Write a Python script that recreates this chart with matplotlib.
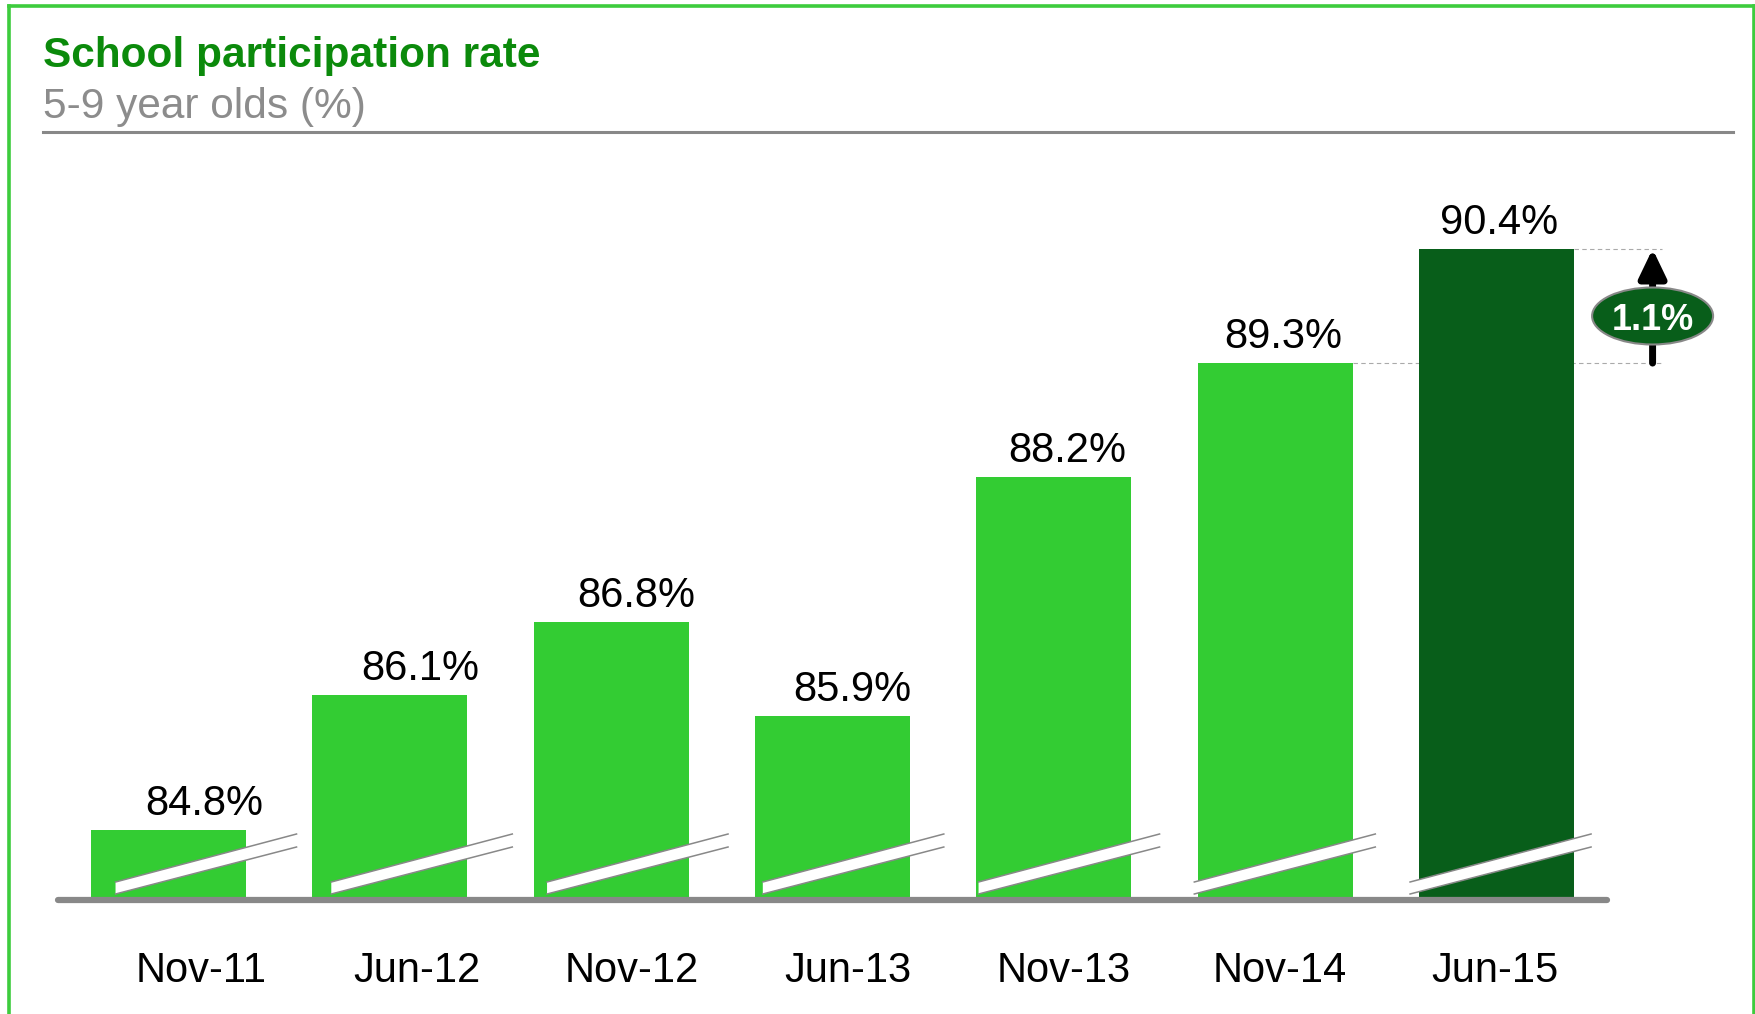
import numpy as np
import matplotlib.pyplot as plt
from matplotlib.patches import Ellipse, Polygon
from matplotlib.lines import Line2D

plt.rcParams['font.family'] = ['Liberation Sans', 'DejaVu Sans']

# data
periods = ['Nov-11', 'Jun-12', 'Nov-12', 'Jun-13', 'Nov-13', 'Nov-14', 'Jun-15']
rates = [84.8, 86.1, 86.8, 85.9, 88.2, 89.3, 90.4]

LIGHT_GREEN = '#33cc33'
DARK_GREEN = '#085e1a'
TITLE_GREEN = '#0b8a0b'
GREY = '#888888'

W, H = 1756, 1014
fig = plt.figure(figsize=(W / 100, H / 100), dpi=100)

# layout helpers (pixel positions measured from top-left)
BASE_PX = 900
TOP_PX = 150
Y_BOT = 84.125          # value at the (broken) baseline
PX_PER_PCT = 103.75


def fx(px):
    return px / W


def fy(py):
    return 1 - py / H


def dy(py):
    return Y_BOT + (BASE_PX - py) / PX_PER_PCT


ax = fig.add_axes([fx(58), fy(BASE_PX), fx(1607) - fx(58), fy(TOP_PX) - fy(BASE_PX)])
ax.set_xlim(-0.5, 6.5)
ax.set_ylim(Y_BOT, dy(TOP_PX))
ax.axis('off')

x = np.arange(len(periods))
colors = [LIGHT_GREEN] * (len(periods) - 1) + [DARK_GREEN]
ax.bar(x, np.array(rates) - Y_BOT, bottom=Y_BOT, width=0.70, color=colors, zorder=2)

# baseline
ax.plot([-0.5, 6.5], [Y_BOT, Y_BOT], color=GREY, lw=4.5, solid_capstyle='round',
        zorder=4, clip_on=False)

# axis break marks
for i in range(len(periods)):
    x0 = -0.24 + 0.975 * i
    x1 = x0 + 0.818
    lo = [(x0, dy(894)), (x1, dy(847))]
    hi = [(x0, dy(882)), (x1, dy(834))]
    ax.add_patch(Polygon([lo[0], lo[1], hi[1], hi[0]], closed=True, facecolor='white',
                         edgecolor='none', zorder=3, clip_on=False))
    for seg in (lo, hi):
        ax.plot([seg[0][0], seg[1][0]], [seg[0][1], seg[1][1]], color=GREY, lw=1.1,
                zorder=3.5, clip_on=False)

# value labels and category labels
for i, (p, r) in enumerate(zip(periods, rates)):
    ax.annotate(f'{r:.1f}%', xy=(0.163 + 0.975 * i, r), xytext=(0, 11),
                textcoords='offset points', ha='center', va='baseline',
                fontsize=30, color='black')
    ax.text(0.145 + 0.975 * i, dy(982), p, ha='center', va='baseline',
            fontsize=30, color='black', clip_on=False)

# change annotation between last two bars
ax_x = 6.706
ax.plot([6.35, 6.75], [rates[-1], rates[-1]], color='#aaaaaa', lw=0.8,
        ls=(0, (4, 3)), clip_on=False, zorder=1)
ax.plot([5.35, 6.75], [rates[-2], rates[-2]], color='#aaaaaa', lw=0.8,
        ls=(0, (4, 3)), clip_on=False, zorder=1)
ax.annotate('', xy=(ax_x, rates[-1]), xytext=(ax_x, rates[-2]),
            arrowprops=dict(arrowstyle='-|>,head_length=1.73,head_width=0.83',
                            lw=5, color='black', shrinkA=0, shrinkB=0),
            annotation_clip=False, zorder=4)
ax.add_patch(Ellipse((ax_x, dy(316)), width=121 / 221.3, height=57 / PX_PER_PCT,
                     facecolor=DARK_GREEN, edgecolor=GREY, lw=1.5, zorder=5,
                     clip_on=False))
ax.text(ax_x, dy(316), f'{rates[-1] - rates[-2]:.1f}%', ha='center',
        va='center_baseline', fontsize=26, fontweight='bold', color='white',
        zorder=6, clip_on=False)

# titles
fig.text(fx(43), fy(67), 'School participation rate', fontsize=30.5,
         fontweight='bold', color=TITLE_GREEN, va='baseline')
fig.text(fx(43), fy(118), '5-9 year olds (%)', fontsize=30.5, color='#8c8c8c',
         va='baseline')
fig.add_artist(Line2D([fx(43), fx(1733)], [fy(132), fy(132)], color=GREY, lw=2.2,
                      transform=fig.transFigure))

# green frame (left, top, right)
frame = dict(color='#3dcc3d', lw=2.6, transform=fig.transFigure)
fig.add_artist(Line2D([fx(8.5), fx(8.5)], [0, fy(6)], **frame))
fig.add_artist(Line2D([fx(8.5), fx(1754)], [fy(6), fy(6)], **frame))
fig.add_artist(Line2D([fx(1754), fx(1754)], [fy(6), 0], **frame))

fig.savefig('out.png', dpi=100)
